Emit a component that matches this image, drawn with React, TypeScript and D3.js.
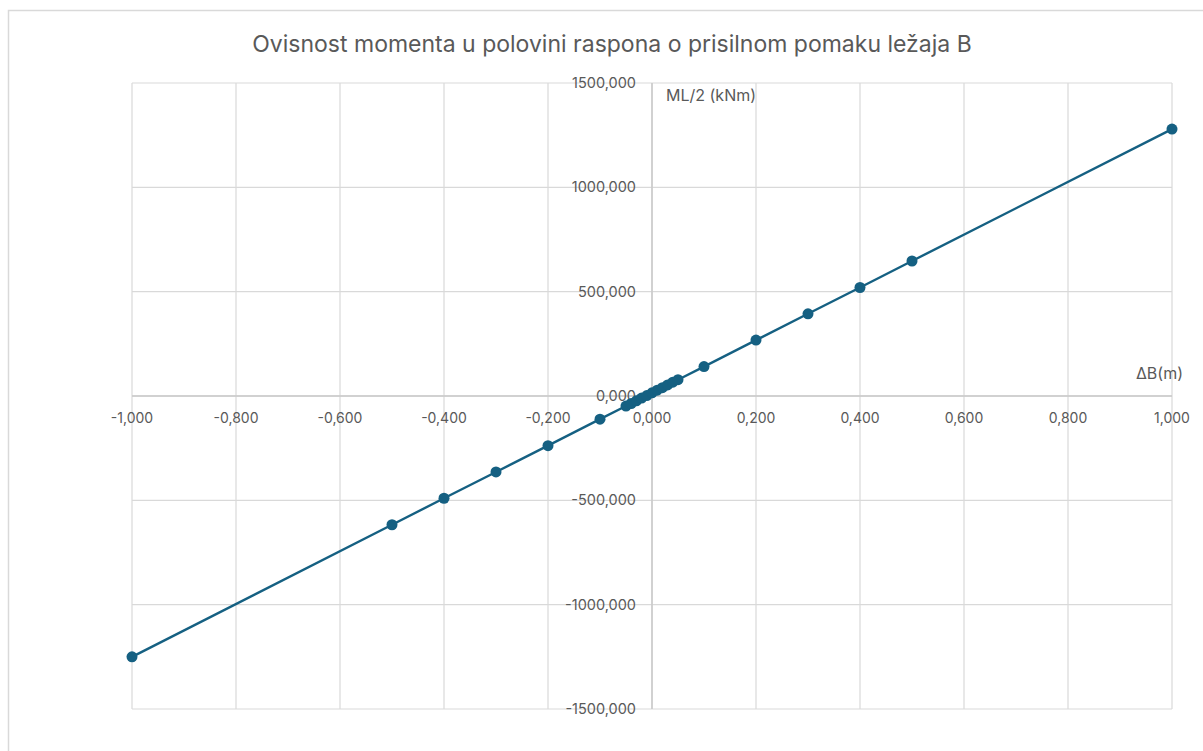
import React from "react";
import * as d3 from "d3";

const title = "Ovisnost momenta u polovini raspona o prisilnom pomaku ležaja B";
const xAxisTitle = "ΔB(m)";
const yAxisTitle = "ML/2 (kNm)";

const deltaB = [-1, -0.5, -0.4, -0.3, -0.2, -0.1, -0.05, -0.04, -0.03, -0.02, -0.01, 0, 0.01, 0.02, 0.03, 0.04, 0.05, 0.1, 0.2, 0.3, 0.4, 0.5, 1];
const moment = [-1250, -617, -490, -364, -238, -111, -48, -36, -23, -10, 2, 15, 28, 40, 53, 66, 78, 141, 268, 394, 520, 647, 1279];

const xTicks = [-1, -0.8, -0.6, -0.4, -0.2, 0, 0.2, 0.4, 0.6, 0.8, 1];
const yTicks = [-1500, -1000, -500, 0, 500, 1000, 1500];

const fmt = (v: number, d: number) => v.toFixed(d).replace(".", ",");

export default function App() {
  const W = 1203, H = 751;
  const x = d3.scaleLinear().domain([-1, 1]).range([132, 1172]);
  const y = d3.scaleLinear().domain([-1500, 1500]).range([709, 83]);
  const pts = deltaB.map((d, i) => [d, moment[i]] as [number, number]);
  const line = d3.line<[number, number]>().x(d => x(d[0])).y(d => y(d[1]));
  const font = "Inter, 'Noto Sans', sans-serif";
  const color = "#156082";
  const grid = "#d9d9d9";
  const textColor = "#595959";
  return (
    <svg width={W} height={H} style={{ position: "absolute", left: 0, top: 0 }} fontFamily={font}>
      <rect x={0} y={0} width={W} height={H} fill="#fff" />
      <rect x={8.5} y={10.5} width={W + 10} height={H + 10} fill="none" stroke={grid} strokeWidth={1.5} />
      <text x={612} y={52} textAnchor="middle" fontSize={23} fill={textColor}>{title}</text>
      {xTicks.map(t => (
        <line key={"gx" + t} x1={x(t)} x2={x(t)} y1={y(1500)} y2={y(-1500)} stroke={grid} strokeWidth={1.2} />
      ))}
      {yTicks.map(t => (
        <line key={"gy" + t} x1={x(-1)} x2={x(1)} y1={y(t)} y2={y(t)} stroke={grid} strokeWidth={1.2} />
      ))}
      <line x1={x(0)} x2={x(0)} y1={y(1500)} y2={y(-1500)} stroke="#c8c8c8" strokeWidth={1.4} />
      <line x1={x(-1)} x2={x(1)} y1={y(0)} y2={y(0)} stroke="#c8c8c8" strokeWidth={1.4} />
      {yTicks.map(t => (
        <text key={"ly" + t} x={x(0) - 16} y={y(t)} dy="0.35em" textAnchor="end" fontSize={14.5} fill={textColor}>{fmt(t, 3)}</text>
      ))}
      {xTicks.map(t => (
        <text key={"lx" + t} x={x(t)} y={y(0) + 22} dy="0.35em" textAnchor="middle" fontSize={14} fill={textColor}>{fmt(t, 3)}</text>
      ))}
      <text x={666} y={95} dy="0.35em" fontSize={16} fill={textColor}>{yAxisTitle}</text>
      <text x={1183} y={373} dy="0.35em" textAnchor="end" fontSize={16} fill={textColor}>{xAxisTitle}</text>
      <path d={line(pts) || ""} fill="none" stroke={color} strokeWidth={2.4} />
      {pts.map((p, i) => (
        <circle key={i} cx={x(p[0])} cy={y(p[1])} r={5.5} fill={color} />
      ))}
    </svg>
  );
}
